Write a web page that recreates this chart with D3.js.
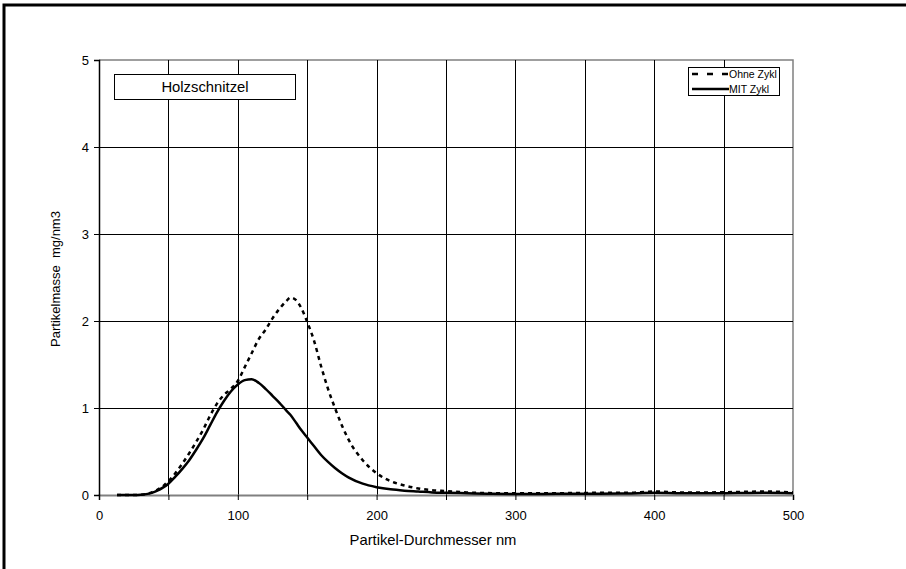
<!DOCTYPE html>
<html>
<head>
<meta charset="utf-8">
<script src="https://cdn.jsdelivr.net/npm/d3@7"></script>
<style>
  body { margin: 0; background: #fff; }
  text { font-family: "Liberation Sans", Arial, sans-serif; fill: #000; }
</style>
</head>
<body>
<script>
let diameters = [13, 15, 17, 20, 23, 26, 30, 34, 38, 42, 46, 50, 55, 60, 65, 70, 75, 80, 85, 90, 95, 100, 105, 110, 115, 120, 125, 130, 135, 138, 142, 146, 150, 155, 160, 165, 170, 175, 180, 190, 200, 210, 220, 230, 240, 250, 265, 280, 300, 320, 340, 360, 380, 400, 420, 440, 460, 480, 500];
let ohneZykl = [0, 0, 0, 0, 0, 0, 0.003, 0.01, 0.03, 0.06, 0.1, 0.16, 0.25, 0.36, 0.48, 0.61, 0.75, 0.91, 1.05, 1.15, 1.22, 1.31, 1.47, 1.63, 1.79, 1.90, 2.03, 2.14, 2.23, 2.27, 2.24, 2.14, 1.99, 1.77, 1.48, 1.22, 1.00, 0.80, 0.63, 0.40, 0.25, 0.16, 0.11, 0.075, 0.055, 0.045, 0.03, 0.022, 0.02, 0.02, 0.022, 0.025, 0.025, 0.04, 0.03, 0.03, 0.035, 0.04, 0.03];
let mitZykl = [0, 0, 0, 0, 0, 0, 0.003, 0.01, 0.025, 0.05, 0.085, 0.13, 0.21, 0.30, 0.40, 0.52, 0.65, 0.80, 0.95, 1.08, 1.19, 1.27, 1.32, 1.33, 1.29, 1.22, 1.14, 1.06, 0.97, 0.92, 0.83, 0.74, 0.66, 0.56, 0.46, 0.38, 0.31, 0.25, 0.20, 0.13, 0.09, 0.065, 0.05, 0.04, 0.03, 0.025, 0.02, 0.015, 0.012, 0.012, 0.015, 0.015, 0.018, 0.025, 0.02, 0.02, 0.022, 0.025, 0.02];

let xTicks = [0, 100, 200, 300, 400, 500];
let xGrid = [50, 100, 150, 200, 250, 300, 350, 400, 450];
let yTicks = [0, 1, 2, 3, 4, 5];

let width = 906;
let height = 569;
let pLeft = 99, pRight = 793, pTop = 60, pBottom = 495;

let xscale = d3.scaleLinear().domain([0, 500]).range([pLeft, pRight]);
let yscale = d3.scaleLinear().domain([0, 5]).range([pBottom, pTop]);

let svg = d3.select("body").append("svg").attr("width", width).attr("height", height);

// outer frame (runs off the right and bottom edge)
svg.append("rect").attr("x", 4).attr("y", 5).attr("width", 920).attr("height", 600)
    .attr("fill", "none").attr("stroke", "#000").attr("stroke-width", 3);

// plot area border
svg.append("path").attr("d", `M${pLeft},${pTop}H${pRight}V${pBottom}`)
    .attr("fill", "none").attr("stroke", "#808080").attr("stroke-width", 1.5);

// grid
svg.selectAll(".vgrid").data(xGrid).enter().append("line")
    .attr("x1", (d) => {return Math.round(xscale(d)) + 0.5;})
    .attr("x2", (d) => {return Math.round(xscale(d)) + 0.5;})
    .attr("y1", pTop).attr("y2", pBottom)
    .attr("stroke", "#000").attr("stroke-width", 1);
svg.selectAll(".hgrid").data(yTicks.slice(1, 5)).enter().append("line")
    .attr("y1", (d) => {return Math.round(yscale(d)) + 0.5;})
    .attr("y2", (d) => {return Math.round(yscale(d)) + 0.5;})
    .attr("x1", pLeft).attr("x2", pRight)
    .attr("stroke", "#000").attr("stroke-width", 1);

// axes
let xAxis = d3.axisBottom(xscale).tickValues([0, 50, 100, 150, 200, 250, 300, 350, 400, 450, 500])
    .tickSize(5).tickFormat((d) => {return xTicks.includes(d) ? d : "";});
let gx = svg.append("g").attr("transform", `translate(0,${pBottom})`).call(xAxis);
gx.select(".domain").attr("stroke", "#808080").attr("stroke-width", 2);
gx.selectAll("line").attr("stroke", "#000");
gx.selectAll("text").attr("font-size", 13).attr("y", 16).attr("dy", "0.71em");

let yAxis = d3.axisLeft(yscale).tickValues(yTicks).tickSize(5).tickFormat(d3.format("d"));
let gy = svg.append("g").attr("transform", `translate(${pLeft},0)`).call(yAxis);
gy.select(".domain").attr("stroke", "#000").attr("stroke-width", 1.5);
gy.selectAll("line").attr("stroke", "#000");
gy.selectAll("text").attr("font-size", 13).attr("x", -10);

svg.selectAll(".domain").attr("fill", "none");

// curves
let line = d3.line()
    .x((d) => {return xscale(d[0]);})
    .y((d) => {return yscale(d[1]);})
    .curve(d3.curveMonotoneX);

svg.append("path").datum(d3.zip(diameters, mitZykl)).attr("d", line)
    .attr("fill", "none").attr("stroke", "#000").attr("stroke-width", 2.5);
svg.append("path").datum(d3.zip(diameters, ohneZykl)).attr("d", line)
    .attr("fill", "none").attr("stroke", "#000").attr("stroke-width", 2.5)
    .attr("stroke-dasharray", "4,4");

// axis titles
svg.append("text").attr("x", 433).attr("y", 545).attr("text-anchor", "middle")
    .attr("font-size", 14.8).text("Partikel-Durchmesser nm");
svg.append("text").attr("transform", "translate(60,279) rotate(-90)").attr("text-anchor", "middle")
    .attr("font-size", 13).style("white-space", "pre").text("Partikelmasse  mg/nm3");

// title box
svg.append("rect").attr("x", 114.5).attr("y", 74.5).attr("width", 181).attr("height", 25)
    .attr("fill", "#fff").attr("stroke", "#000").attr("stroke-width", 1);
svg.append("text").attr("x", 205).attr("y", 92).attr("text-anchor", "middle")
    .attr("font-size", 14.8).text("Holzschnitzel");

// legend
let legendNames = ["Ohne Zykl", "MIT Zykl"];
let legendDash = ["6,9", null];
svg.append("rect").attr("x", 688.5).attr("y", 67.5).attr("width", 91).attr("height", 28)
    .attr("fill", "#fff").attr("stroke", "#000").attr("stroke-width", 1);
let lg = svg.selectAll(".leg").data(legendNames).enter().append("g")
    .attr("transform", (d, i) => {return `translate(0,${74 + i * 15})`;});
lg.append("line").attr("x1", 692).attr("x2", 729).attr("y1", 0).attr("y2", 0)
    .attr("stroke", "#000").attr("stroke-width", 2.5)
    .attr("stroke-dasharray", (d, i) => {return legendDash[i];});
lg.append("text").attr("x", 729).attr("y", 3.5).attr("font-size", 10.5).text((d) => {return d;});
</script>
</body>
</html>
